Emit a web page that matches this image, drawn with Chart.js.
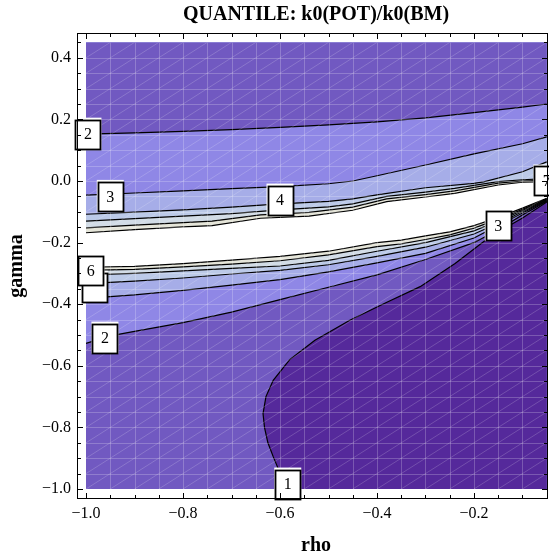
<!DOCTYPE html>
<html>
<head>
<meta charset="utf-8">
<script src="https://cdn.jsdelivr.net/npm/chart.js@4.4.1/dist/chart.umd.min.js"></script>
<style>
html, body { margin: 0; padding: 0; background: #fff; }
#wrap { width: 549px; height: 559px; }
</style>
</head>
<body>
<div id="wrap"><canvas id="c"></canvas></div>
<script>
// contour lines of k0(POT)/k0(BM), points are [rho, gamma]
const upper2 = [[-1,0.152],[-0.9,0.156],[-0.8,0.161],[-0.7,0.167],[-0.6,0.174],[-0.5,0.182],[-0.4,0.192],[-0.3,0.205],[-0.2,0.222],[-0.1,0.24],[-0.05,0.25]];
const upper3 = [[-1,-0.046],[-0.9,-0.039],[-0.8,-0.032],[-0.7,-0.025],[-0.6,-0.018],[-0.5,-0.009],[-0.45,0.0],[-0.4,0.017],[-0.3,0.052],[-0.2,0.088],[-0.1,0.121],[-0.05,0.143]];
const upper4 = [[-1,-0.108],[-0.9,-0.101],[-0.8,-0.094],[-0.7,-0.085],[-0.6,-0.074],[-0.5,-0.066],[-0.45,-0.058],[-0.4,-0.045],[-0.3,-0.022],[-0.2,-0.008],[-0.18,-0.003],[-0.1,0.03],[-0.05,0.062]];
const upper5 = [[-1,-0.13],[-0.9,-0.122],[-0.8,-0.114],[-0.7,-0.106],[-0.6,-0.094],[-0.5,-0.084],[-0.45,-0.074],[-0.38,-0.05],[-0.3,-0.036],[-0.24,-0.024],[-0.15,-0.002],[-0.1,0.004],[-0.05,0.008]];
const upper6 = [[-1,-0.152],[-0.9,-0.143],[-0.8,-0.135],[-0.74,-0.13],[-0.64,-0.11],[-0.54,-0.102],[-0.45,-0.085],[-0.38,-0.058],[-0.3,-0.044],[-0.24,-0.032],[-0.15,-0.007],[-0.1,0.0],[-0.05,0.002]];
const upper7 = [[-1,-0.168],[-0.9,-0.158],[-0.8,-0.149],[-0.74,-0.145],[-0.64,-0.121],[-0.54,-0.114],[-0.45,-0.095],[-0.38,-0.067],[-0.3,-0.052],[-0.24,-0.04],[-0.15,-0.013],[-0.1,-0.004],[-0.05,-0.002]];

const lower7 = [[-1,-0.28],[-0.9,-0.277],[-0.8,-0.268],[-0.7,-0.257],[-0.6,-0.245],[-0.5,-0.228],[-0.4,-0.2],[-0.35,-0.192],[-0.3,-0.178],[-0.25,-0.165],[-0.2,-0.145],[-0.15,-0.118],[-0.1,-0.088],[-0.05,-0.056]];
const lower6 = [[-1,-0.29],[-0.9,-0.287],[-0.8,-0.279],[-0.7,-0.27],[-0.6,-0.259],[-0.5,-0.24],[-0.4,-0.213],[-0.35,-0.204],[-0.3,-0.19],[-0.25,-0.175],[-0.2,-0.153],[-0.15,-0.124],[-0.1,-0.092],[-0.05,-0.058]];
const lower5 = [[-1,-0.305],[-0.9,-0.3],[-0.8,-0.292],[-0.7,-0.284],[-0.6,-0.276],[-0.5,-0.258],[-0.4,-0.228],[-0.3,-0.2],[-0.2,-0.162],[-0.15,-0.13],[-0.1,-0.096],[-0.05,-0.06]];
const lower4 = [[-1,-0.333],[-0.9,-0.325],[-0.8,-0.315],[-0.7,-0.302],[-0.6,-0.29],[-0.5,-0.272],[-0.4,-0.245],[-0.3,-0.215],[-0.2,-0.172],[-0.15,-0.137],[-0.1,-0.1],[-0.05,-0.062]];
const lower3 = [[-1,-0.381],[-0.9,-0.37],[-0.8,-0.355],[-0.7,-0.338],[-0.6,-0.32],[-0.5,-0.295],[-0.4,-0.266],[-0.3,-0.235],[-0.2,-0.185],[-0.15,-0.144],[-0.1,-0.104],[-0.05,-0.064]];
const lower2 = [[-1,-0.527],[-0.95,-0.503],[-0.9,-0.488],[-0.8,-0.46],[-0.7,-0.426],[-0.6,-0.385],[-0.5,-0.345],[-0.4,-0.305],[-0.3,-0.255],[-0.2,-0.2],[-0.15,-0.158],[-0.1,-0.11],[-0.05,-0.066]];
const lower1 = [[-0.05,-0.068],[-0.1,-0.12],[-0.167,-0.181],[-0.239,-0.268],[-0.311,-0.343],[-0.384,-0.397],[-0.456,-0.452],[-0.528,-0.517],[-0.58,-0.58],[-0.614,-0.647],[-0.629,-0.7],[-0.635,-0.755],[-0.632,-0.8],[-0.625,-0.85],[-0.614,-0.895],[-0.604,-0.933],[-0.594,-1.0]];

// contour labels
const labelText  = ['2', '3', '4', '7', '3', '', '6', '2', '1'];
const labelRho   = [-0.996, -0.95, -0.6, -0.05, -0.15, -0.983, -0.99, -0.961, -0.584];
const labelGamma = [0.152, -0.05, -0.062, 0.0, -0.144, -0.345, -0.29, -0.51, -0.984];

const rhoTicks = [-1.0, -0.8, -0.6, -0.4, -0.2];
const gammaTicks = [0.4, 0.2, 0.0, -0.2, -0.4, -0.6, -0.8, -1.0];

// plotted region
const X0 = -1, X1 = -0.05, Y0 = -1, Y1 = 0.45;

const col = {
    c1: '#55299b', c12: '#7159c1', c23: '#8f87e6', c34: '#a6ade8',
    c45: '#bccae8', c56: '#d2dce6', c67: '#e5e5d9'
};

function pts(a) { return a.map(p => ({x: p[0], y: p[1]})); }
function toTop(line) { return pts(line.concat([[X1, Y1], [X0, Y1]])); }
function toBottom(line) { return pts(line.concat([[X1, Y0], [X0, Y0]])); }

const regions = [
    [toTop(upper7), col.c67], [toTop(upper6), col.c56], [toTop(upper5), col.c45],
    [toTop(upper4), col.c34], [toTop(upper3), col.c23], [toTop(upper2), col.c12],
    [toBottom(lower7), col.c67], [toBottom(lower6), col.c56], [toBottom(lower5), col.c45],
    [toBottom(lower4), col.c34], [toBottom(lower3), col.c23], [toBottom(lower2), col.c12],
    [pts(lower1.concat([[X1, Y0]])), col.c1]
];
const lines = [upper2, upper3, upper4, upper5, upper6, upper7,
    lower7, lower6, lower5, lower4, lower3, lower2, lower1];

const datasets = [];
regions.forEach((r, i) => {
    datasets.push({
        data: r[0], showLine: true, fill: 'shape', backgroundColor: r[1],
        borderWidth: 0, pointRadius: 0, tension: 0, order: 100 - i
    });
});
lines.forEach(l => {
    datasets.push({
        data: pts(l), showLine: true, fill: false, borderColor: '#000',
        borderWidth: 1.2, pointRadius: 0, tension: 0, order: 0
    });
});

const serif = "'Liberation Serif', 'DejaVu Serif', serif";
const fmt = v => v.toFixed(1).replace('-', '\u2212');

const decor = {
    id: 'decor',
    afterDatasetsDraw(chart) {
        const {ctx, scales: {x, y}} = chart;
        const l = x.getPixelForValue(X0), r = x.getPixelForValue(X1);
        const t = y.getPixelForValue(Y1), b = y.getPixelForValue(Y0);
        // mesh lines of the sampled grid
        ctx.save();
        ctx.beginPath();
        ctx.rect(l, t, r - l, b - t);
        ctx.clip();
        ctx.lineWidth = 1;
        ctx.strokeStyle = 'rgba(255,255,255,0.22)';
        ctx.beginPath();
        for (let k = 1; k < 19; k++) {
            const px = Math.round(x.getPixelForValue(X0 + k * 0.05)) + 0.5;
            ctx.moveTo(px, t); ctx.lineTo(px, b);
        }
        for (let k = 1; k < 29; k++) {
            const py = Math.round(y.getPixelForValue(Y0 + k * 0.05)) + 0.5;
            ctx.moveTo(l, py); ctx.lineTo(r, py);
        }
        ctx.stroke();
        ctx.strokeStyle = 'rgba(255,255,255,0.18)';
        ctx.beginPath();
        for (let i = 0; i < 19; i++) {
            for (let j = 0; j < 29; j++) {
                ctx.moveTo(x.getPixelForValue(X0 + i * 0.05), y.getPixelForValue(Y0 + j * 0.05));
                ctx.lineTo(x.getPixelForValue(X0 + (i + 1) * 0.05), y.getPixelForValue(Y0 + (j + 1) * 0.05));
            }
        }
        ctx.stroke();
        ctx.restore();

        // contour labels
        ctx.save();
        ctx.font = '16px ' + serif;
        ctx.textAlign = 'center';
        ctx.textBaseline = 'middle';
        labelText.forEach((s, i) => {
            const cx = x.getPixelForValue(labelRho[i]);
            const cy = y.getPixelForValue(labelGamma[i]);
            const w = 25, h = 29;
            ctx.fillStyle = '#fff';
            ctx.fillRect(cx - w / 2 - 1, cy - h / 2 - 2, w + 2, h + 3);
            ctx.strokeStyle = '#000';
            ctx.lineWidth = 1.8;
            ctx.strokeRect(Math.round(cx - w / 2) + 0.5, Math.round(cy - h / 2) + 0.5, w, h);
            ctx.fillStyle = '#000';
            ctx.fillText(s, cx, cy + 1);
        });
        ctx.restore();
    },
    afterDraw(chart) {
        const {ctx, chartArea: a, scales: {x, y}} = chart;
        ctx.save();
        ctx.strokeStyle = '#000';
        ctx.lineWidth = 1;
        ctx.strokeRect(a.left + 0.5, a.top + 0.5, a.right - a.left - 1, a.bottom - a.top - 1);
        ctx.beginPath();
        for (let k = 0; k <= 19; k++) {
            const v = X0 + k * 0.05;
            const major = Math.abs(v / 0.2 - Math.round(v / 0.2)) < 1e-6;
            const len = major ? 6 : 4;
            const px = Math.round(x.getPixelForValue(v)) + 0.5;
            ctx.moveTo(px, a.bottom); ctx.lineTo(px, a.bottom - len);
            ctx.moveTo(px, a.top); ctx.lineTo(px, a.top + len);
        }
        for (let k = 0; k <= 29; k++) {
            const v = Y0 + k * 0.05;
            const major = Math.abs(v / 0.2 - Math.round(v / 0.2)) < 1e-6;
            const len = major ? 6 : 4;
            const py = Math.round(y.getPixelForValue(v)) + 0.5;
            ctx.moveTo(a.left, py); ctx.lineTo(a.left + len, py);
            ctx.moveTo(a.right, py); ctx.lineTo(a.right - len, py);
        }
        ctx.stroke();

        ctx.fillStyle = '#000';
        ctx.font = '16px ' + serif;
        ctx.textBaseline = 'middle';
        ctx.textAlign = 'center';
        rhoTicks.forEach(v => ctx.fillText(fmt(v), x.getPixelForValue(v), a.bottom + 15));
        ctx.textAlign = 'right';
        gammaTicks.forEach(v => ctx.fillText(fmt(v), a.left - 6, y.getPixelForValue(v)));

        ctx.textAlign = 'center';
        ctx.font = 'bold 20px ' + serif;
        ctx.fillText('QUANTILE: k0(POT)/k0(BM)', 316, 15);
        ctx.fillText('rho', 316, 546);
        ctx.translate(17, (a.top + a.bottom) / 2);
        ctx.rotate(-Math.PI / 2);
        ctx.fillText('gamma', 0, 0);
        ctx.restore();
    }
};

new Chart(document.getElementById('c'), {
    type: 'scatter',
    data: {datasets: datasets},
    options: {
        responsive: true,
        maintainAspectRatio: false,
        animation: false,
        layout: {padding: {left: 77, top: 33, right: 1, bottom: 60}},
        scales: {
            x: {type: 'linear', min: -1.0186, max: -0.0474, display: false},
            y: {type: 'linear', min: -1.0325, max: 0.4805, display: false}
        },
        plugins: {legend: {display: false}, tooltip: {enabled: false}},
        events: []
    },
    plugins: [decor]
});
</script>
</body>
</html>
